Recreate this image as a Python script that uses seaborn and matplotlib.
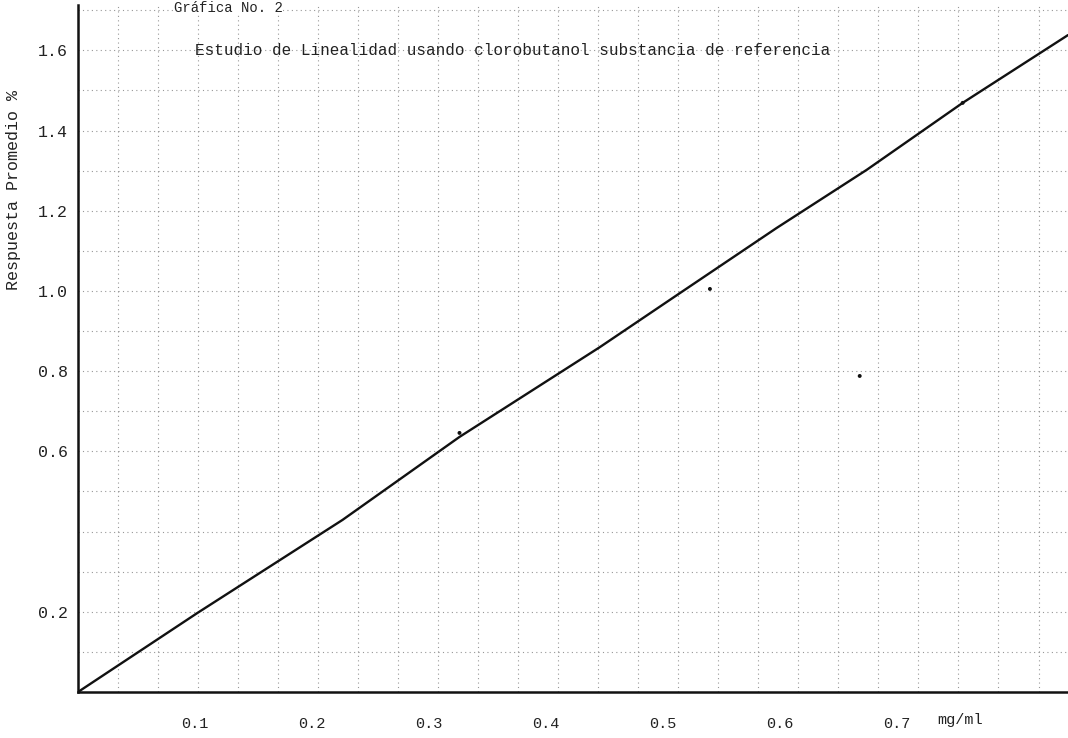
import numpy as np
import matplotlib
matplotlib.use("Agg")
import matplotlib.pyplot as plt
import seaborn as sns

# Traced calibration line (mg/ml vs response)
concentracion = [0.0, 0.102, 0.226, 0.326, 0.446, 0.512, 0.597, 0.674, 0.756, 0.846]
respuesta = [0.0, 0.197, 0.429, 0.636, 0.860, 0.990, 1.157, 1.302, 1.469, 1.638]

# Plotted points visible on the sheet
puntos_x = [0.326, 0.540, 0.668, 0.756]
puntos_y = [0.646, 1.005, 0.788, 1.469]

x_ticks = [0.1, 0.2, 0.3, 0.4, 0.5, 0.6, 0.7]
x_labels = ["0.1", "0.2", "0.3", "0.4", "0.5", "0.6", "0.7"]
y_ticks = [0.2, 0.6, 0.8, 1.0, 1.2, 1.4, 1.6]
y_labels = ["0.2", "0.6", "0.8", "1.0", "1.2", "1.4", "1.6"]

sns.set_style("white")
plt.rcParams["font.family"] = ["Liberation Mono", "DejaVu Sans Mono"]

fig = plt.figure(figsize=(10.68, 7.38), dpi=100)
ax = fig.add_axes([78 / 1068, 46 / 738, 990 / 1068, 687 / 738])
ax.set_xlim(0, 0.846)
ax.set_ylim(0, 1.713)

# graph paper grid
for yy in np.arange(0.1, 1.72, 0.1):
    ax.axhline(yy, color="#444444", lw=0.8, ls=(0, (1, 3)), alpha=0.55, zorder=0)
for xx in np.arange(0.0342, 0.846, 0.0342):
    ax.axvline(xx, color="#444444", lw=0.8, ls=(0, (1, 3)), alpha=0.55, zorder=0)

sns.lineplot(x=concentracion, y=respuesta, sort=False, estimator=None,
             color="#111111", lw=1.7, ax=ax, zorder=3)
sns.scatterplot(x=puntos_x, y=puntos_y, color="#111111", s=8,
                edgecolor="none", ax=ax, zorder=4)

for side in ["top", "right"]:
    ax.spines[side].set_visible(False)
for side in ["left", "bottom"]:
    ax.spines[side].set_color("#111111")
    ax.spines[side].set_linewidth(1.8)

ax.set_xticks(x_ticks)
ax.set_xticklabels(x_labels)
ax.set_yticks(y_ticks)
ax.set_yticklabels(y_labels)
ax.tick_params(axis="x", direction="inout", length=8, width=1.0, pad=14,
               labelsize=11, colors="#222222")
ax.tick_params(axis="y", direction="inout", length=8, width=1.0, pad=3,
               labelsize=12, colors="#222222")

ax.text(0.754, -0.041, "mg/ml", transform=ax.get_xaxis_transform(),
        ha="center", va="center", fontsize=11, color="#222222")

ax.set_ylabel("Respuesta Promedio %", fontsize=12, color="#222222",
              labelpad=26)
ax.yaxis.set_label_coords(-0.058, 0.73)

ax.text(0.1, 1.6, "Estudio de Linealidad usando clorobutanol substancia de referencia",
        ha="left", va="center", fontsize=11.5, color="#222222")

fig.text(228 / 1068, 0.999, "Gráfica No. 2", ha="center", va="top",
         fontsize=10, color="#222222",
         bbox=dict(facecolor="white", edgecolor="none", pad=0.5))

fig.savefig("out.png", dpi=100, facecolor="white")
